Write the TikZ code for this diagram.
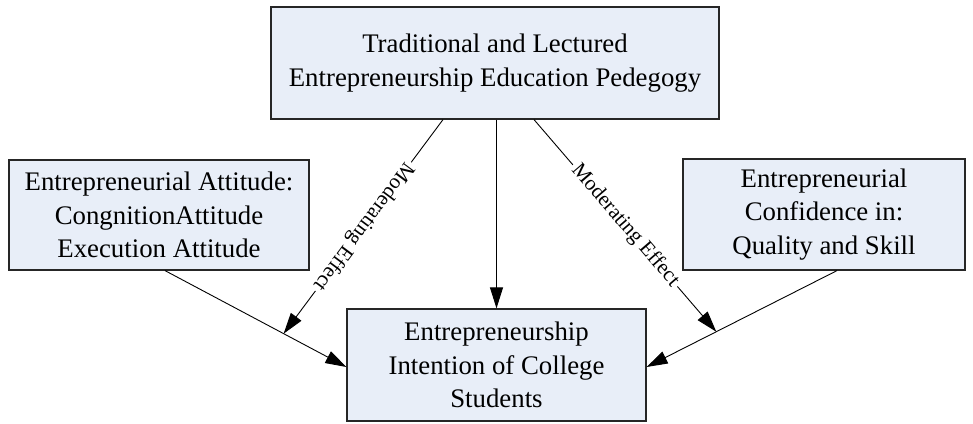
\documentclass[tikz,border=0pt]{standalone}
\usepackage{fontspec}
\setmainfont{Liberation Serif}
\usetikzlibrary{arrows.meta,calc}
\definecolor{boxfill}{RGB}{232,238,248}
\begin{document}
\begin{tikzpicture}[x=1pt,y=-1pt,
  box/.style={draw=black!85, line width=1.2pt, fill=boxfill, align=center,
    inner sep=0pt, font=\fontsize{26.8}{33.5}\selectfont},
  link/.style={line width=0.9pt, -{Triangle[length=21pt,width=13pt]}},
  modlabel/.style={sloped, midway, fill=white, inner xsep=3pt, inner ysep=0.5pt,
    font=\fontsize{21}{24}\selectfont}]
\useasboundingbox (0,0) rectangle (973,423);

% boxes
\node[box, minimum width=448pt, minimum height=112pt] (ped) at (495,63)
  {Traditional and Lectured\\Entrepreneurship Education Pedegogy};
\node[box, minimum width=300pt, minimum height=110pt] (att) at (159,215)
  {Entrepreneurial Attitude:\\CongnitionAttitude\\Execution Attitude};
\node[box, minimum width=282pt, minimum height=111pt] (conf) at (824,214.5)
  {Entrepreneurial\\Confidence in:\\Quality and Skill};
\node[box, minimum width=299pt, minimum height=112pt] (int) at (496.5,365)
  {Entrepreneurship\\Intention of College\\Students};

% direct effects
\coordinate (attout) at ([xshift=6pt]att.south);
\coordinate (attin) at ([yshift=-2pt]int.west);
\coordinate (confout) at ([xshift=13pt]conf.south);
\coordinate (confin) at ([yshift=-2pt]int.east);
\draw[link] (attout) -- (attin);
\draw[link] (confout) -- (confin);
\draw[link] (ped.south -| int.north) -- (int.north);

% moderating effects onto the direct-effect paths
\coordinate (modL) at ($(attout)!0.654!(attin)$);
\coordinate (modR) at ($(confout)!0.634!(confin)$);
\draw[link] ([xshift=-52pt]ped.south) -- (modL)
  node[modlabel, allow upside down] {Moderating Effect};
\draw[link] ([xshift=39pt]ped.south) -- (modR)
  node[modlabel] {Moderating Effect};
\end{tikzpicture}
\end{document}
